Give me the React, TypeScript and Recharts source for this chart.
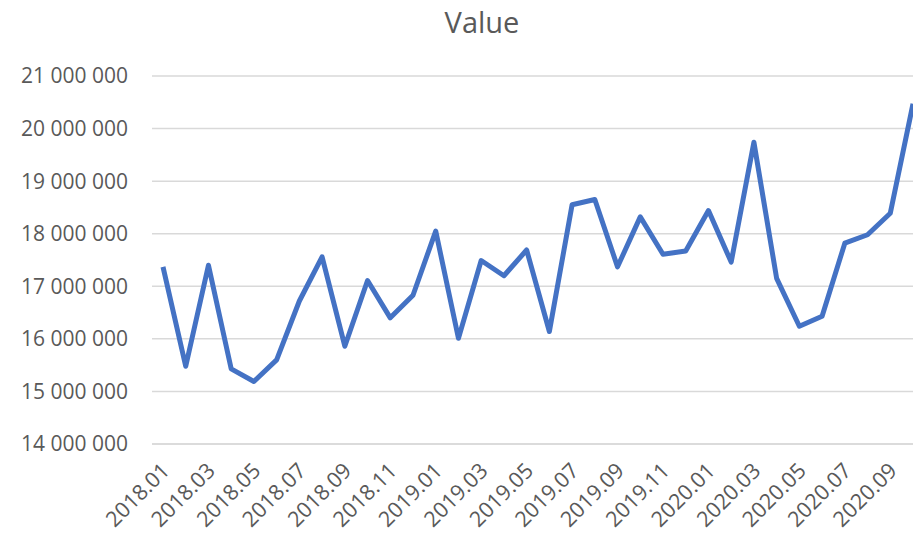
import { LineChart, Line, XAxis, YAxis, CartesianGrid } from 'recharts'

const months = [
  '2018.01', '2018.02', '2018.03', '2018.04', '2018.05', '2018.06', '2018.07', '2018.08', '2018.09', '2018.10', '2018.11', '2018.12',
  '2019.01', '2019.02', '2019.03', '2019.04', '2019.05', '2019.06', '2019.07', '2019.08', '2019.09', '2019.10', '2019.11', '2019.12',
  '2020.01', '2020.02', '2020.03', '2020.04', '2020.05', '2020.06', '2020.07', '2020.08', '2020.09', '2020.10',
]

const values = [
  17370000, 15480000, 17400000, 15430000, 15190000, 15600000, 16720000, 17560000, 15860000, 17110000, 16400000, 16830000,
  18050000, 16010000, 17490000, 17200000, 17690000, 16140000, 18550000, 18650000, 17370000, 18320000, 17610000, 17670000,
  18440000, 17460000, 19740000, 17150000, 16240000, 16430000, 17820000, 17980000, 18390000, 20470000,
]

const yTicks = [14000000, 15000000, 16000000, 17000000, 18000000, 19000000, 20000000, 21000000]

const data = months.map((m, i) => ({ month: m, value: values[i] }))

const fmt = (v: number) => String(v).replace(/\B(?=(\d{3})+(?!\d))/g, ' ')

const FONT = '"Open Sans", sans-serif'
const GREY = '#595959'

function MonthTick({ x, y, payload }: any) {
  return (
    <g transform={`translate(${x + 8},${y + 20})`}>
      <text x={0} y={0} textAnchor="end" transform="rotate(-45)" fill={GREY} fontSize={21.5} fontFamily={FONT}>
        {payload.value}
      </text>
    </g>
  )
}

export default function App() {
  return (
    <div style={{ position: 'absolute', left: 0, top: 0, width: 913, height: 535, overflow: 'hidden', background: '#fff' }}>
      <div style={{ position: 'absolute', left: 0, top: 1, width: 964, textAlign: 'center', fontFamily: FONT, fontSize: 29, color: GREY, lineHeight: '42px' }}>
        Value
      </div>
      <LineChart width={924} height={535} data={data} margin={{ top: 76, right: 0, bottom: 0, left: 0 }}>
        <CartesianGrid vertical={false} stroke="#d9d9d9" strokeWidth={1.5} />
        <XAxis
          dataKey="month"
          interval={1}
          tick={<MonthTick />}
          tickLine={false}
          axisLine={{ stroke: '#d9d9d9', strokeWidth: 1.5 }}
          height={91}
          padding={{ left: 11, right: 11 }}
        />
        <YAxis
          domain={[14000000, 21000000]}
          ticks={yTicks}
          tickFormatter={fmt}
          width={152}
          axisLine={false}
          tickLine={false}
          tickSize={0}
          tickMargin={24}
          tick={{ fill: GREY, fontSize: 21, fontFamily: FONT }}
        />
        <Line
          type="linear"
          dataKey="value"
          stroke="#4472c4"
          strokeWidth={5}
          strokeLinejoin="round"
          dot={false}
          isAnimationActive={false}
        />
      </LineChart>
    </div>
  )
}
